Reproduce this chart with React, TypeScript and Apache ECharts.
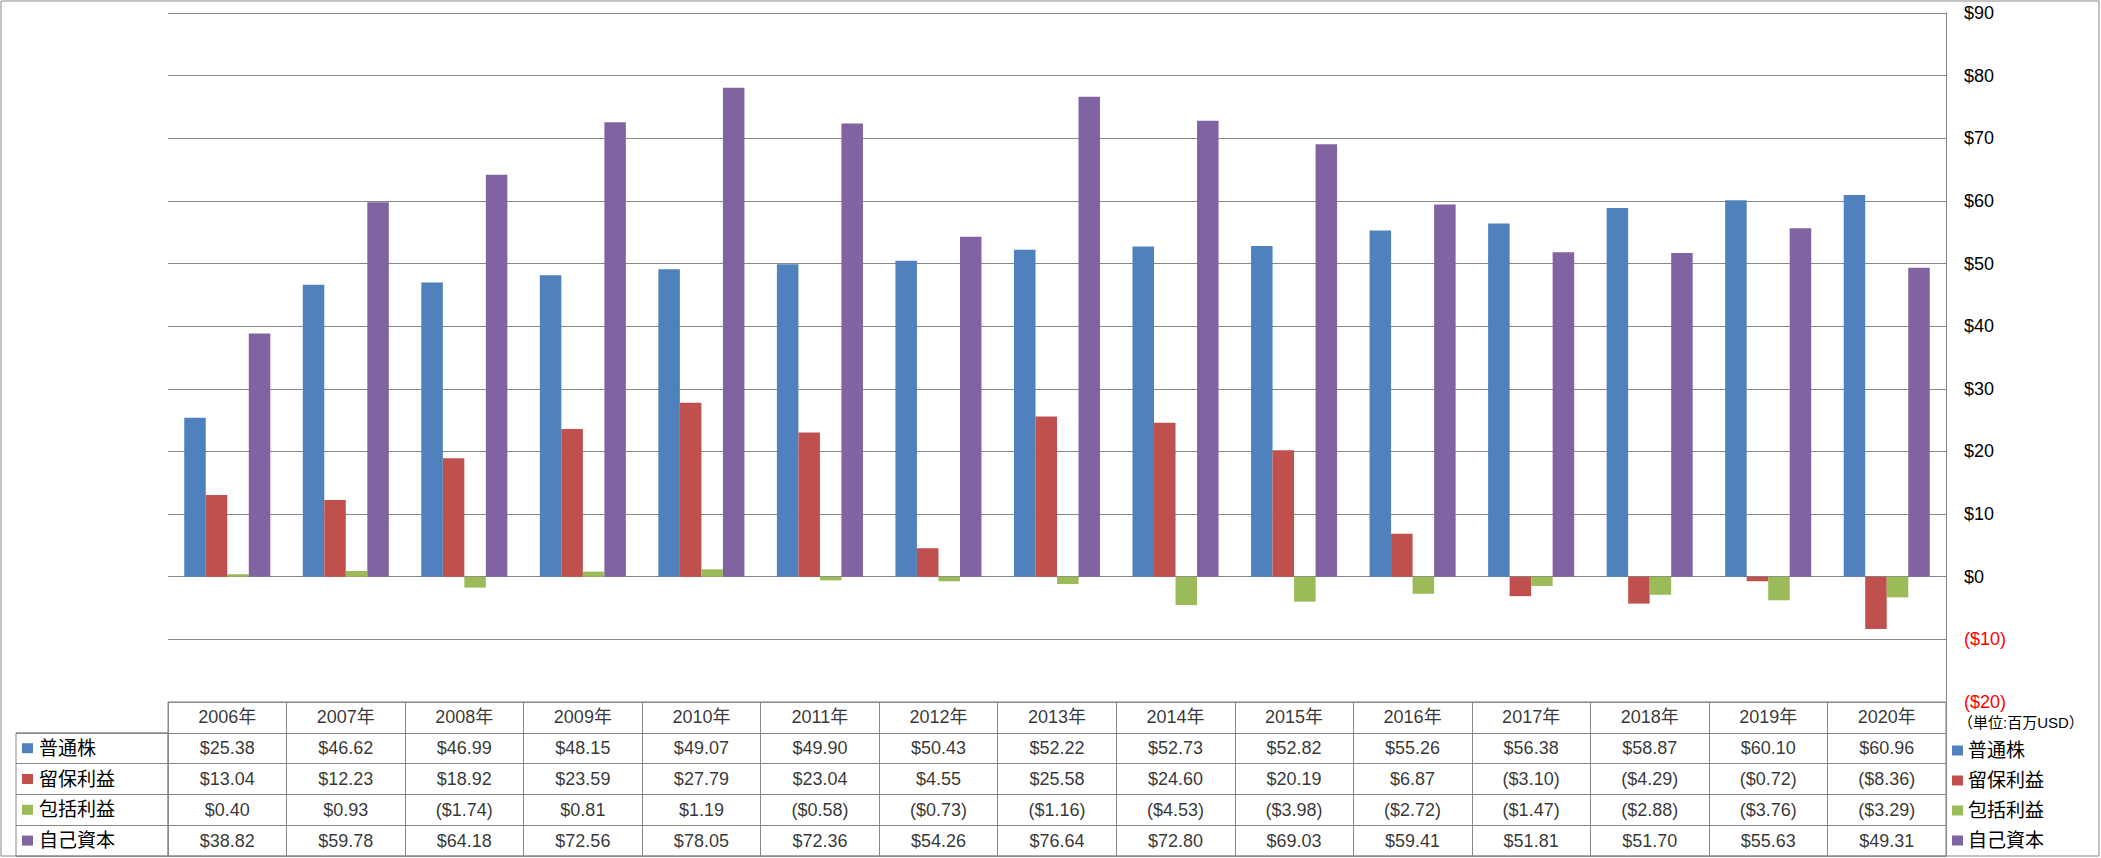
import React, { useEffect, useRef } from "react";
import * as echarts from "echarts";

const years = ["2006年", "2007年", "2008年", "2009年", "2010年", "2011年", "2012年", "2013年", "2014年", "2015年", "2016年", "2017年", "2018年", "2019年", "2020年"];
const seriesNames = ["普通株", "留保利益", "包括利益", "自己資本"];
const commonStock = [25.38, 46.62, 46.99, 48.15, 49.07, 49.9, 50.43, 52.22, 52.73, 52.82, 55.26, 56.38, 58.87, 60.1, 60.96];
const retainedEarnings = [13.04, 12.23, 18.92, 23.59, 27.79, 23.04, 4.55, 25.58, 24.6, 20.19, 6.87, -3.1, -4.29, -0.72, -8.36];
const comprehensiveIncome = [0.4, 0.93, -1.74, 0.81, 1.19, -0.58, -0.73, -1.16, -4.53, -3.98, -2.72, -1.47, -2.88, -3.76, -3.29];
const equity = [38.82, 59.78, 64.18, 72.56, 78.05, 72.36, 54.26, 76.64, 72.8, 69.03, 59.41, 51.81, 51.7, 55.63, 49.31];
const colors = ["#4F81BD", "#C0504D", "#9BBB59", "#8064A2"];
const unitLabel = "（単位:百万USD）";

const FONT = "'Liberation Sans', 'Noto Sans CJK JP', sans-serif";
const GRAY = "#878787";

const fmt = (v: number) => (v < 0 ? `($${(-v).toFixed(2)})` : `$${v.toFixed(2)}`);

export default function App() {
  const ref = useRef<HTMLDivElement>(null);
  useEffect(() => {
    document.body.style.margin = "0";
    if (!ref.current) return;
    const chart = echarts.init(ref.current, undefined, { renderer: "svg" });
    const rows = [commonStock, retainedEarnings, comprehensiveIncome, equity];

    const tableData: any[] = [];
    years.forEach((y, c) => tableData.push({ value: [c, 0], name: y }));
    rows.forEach((vals, r) => vals.forEach((v, c) => tableData.push({ value: [c, r + 1], name: fmt(v) })));

    const plotLeft = 168;
    const plotWidth = 1778;
    const plotTop = 13;
    const plotHeight = 689;
    const tableTop = plotTop + plotHeight;
    const tableHeight = 154;
    const rowH = tableHeight / 5;

    const richSquares: any = {};
    colors.forEach((c, i) => {
      richSquares["s" + i] = { width: 11, height: 10, backgroundColor: c };
    });
    richSquares.t = { fontSize: 19, padding: [0, 0, 0, 6], color: "#000", fontFamily: FONT };

    chart.setOption({
      animation: false,
      textStyle: { fontFamily: FONT, color: "#000" },
      color: colors,
      grid: [
        { left: plotLeft, top: plotTop, width: plotWidth, height: plotHeight },
        { left: plotLeft, top: tableTop, width: plotWidth, height: tableHeight, show: true, borderColor: GRAY, borderWidth: 1 },
        { left: 16, top: tableTop + rowH, width: plotLeft - 16, height: tableHeight - rowH, show: true, borderColor: GRAY, borderWidth: 1 },
      ],
      xAxis: [
        { gridIndex: 0, type: "category", data: years, axisLabel: { show: false }, axisLine: { show: false }, axisTick: { show: false }, splitLine: { show: false } },
        { gridIndex: 1, type: "category", data: years, axisLabel: { show: false }, axisLine: { show: false }, axisTick: { show: false }, splitLine: { show: true, lineStyle: { color: GRAY, width: 1 } } },
        { gridIndex: 2, type: "value", show: false },
      ],
      yAxis: [
        {
          gridIndex: 0,
          type: "value",
          position: "right",
          min: -20,
          max: 90,
          interval: 10,
          axisLine: { show: true, lineStyle: { color: GRAY, width: 1 } },
          axisTick: { show: false },
          splitLine: { show: true, lineStyle: { color: GRAY, width: 1 } },
          axisLabel: {
            margin: 18,
            fontSize: 18,
            color: "#000",
            fontFamily: FONT,
            formatter: (v: number) => (v < 0 ? `{neg|($${-v})}` : `$${v}`),
            rich: { neg: { color: "#FF0000", fontSize: 18, fontFamily: FONT } },
          },
        },
        {
          gridIndex: 1,
          type: "category",
          inverse: true,
          data: ["年", ...seriesNames],
          axisLabel: { show: false },
          axisLine: { show: false },
          axisTick: { show: false },
          splitLine: { show: true, lineStyle: { color: GRAY, width: 1 } },
        },
        {
          gridIndex: 2,
          type: "category",
          inverse: true,
          data: seriesNames,
          axisLine: { show: false },
          axisTick: { show: false },
          splitLine: { show: true, lineStyle: { color: GRAY, width: 1 } },
          axisLabel: {
            inside: true,
            margin: 6,
            formatter: (v: string, i: number) => `{s${i}|}{t|${v}}`,
            rich: richSquares,
          },
        },
      ],
      legend: {
        orient: "vertical",
        left: 1952,
        top: 741,
        padding: 0,
        itemGap: 11,
        itemWidth: 11,
        itemHeight: 10,
        icon: "rect",
        selectedMode: false,
        textStyle: { fontSize: 19, color: "#000", fontFamily: FONT },
        data: seriesNames,
      },
      graphic: [
        { type: "rect", shape: { x: 1, y: 1, width: 2098, height: 855 }, style: { fill: "none", stroke: GRAY, lineWidth: 1 }, silent: true },
        { type: "text", left: 1958, top: 715, style: { text: unitLabel, fontSize: 15, fill: "#000", fontFamily: FONT }, silent: true },
      ],
      series: [
        ...rows.map((vals, i) => ({
          name: seriesNames[i],
          type: "bar",
          xAxisIndex: 0,
          yAxisIndex: 0,
          data: vals,
          barGap: "0%",
          barCategoryGap: "27.4%",
          itemStyle: { color: colors[i] },
          silent: true,
        })),
        {
          type: "scatter",
          xAxisIndex: 1,
          yAxisIndex: 1,
          data: tableData,
          symbol: "rect",
          symbolSize: 1,
          itemStyle: { color: "rgba(0,0,0,0)" },
          silent: true,
          label: {
            show: true,
            position: "inside",
            fontSize: 18,
            color: "#000",
            fontFamily: FONT,
            formatter: (p: any) => p.name,
          },
        },
      ],
    });
    return () => chart.dispose();
  }, []);
  return <div ref={ref} style={{ width: 2101, height: 858 }} />;
}
